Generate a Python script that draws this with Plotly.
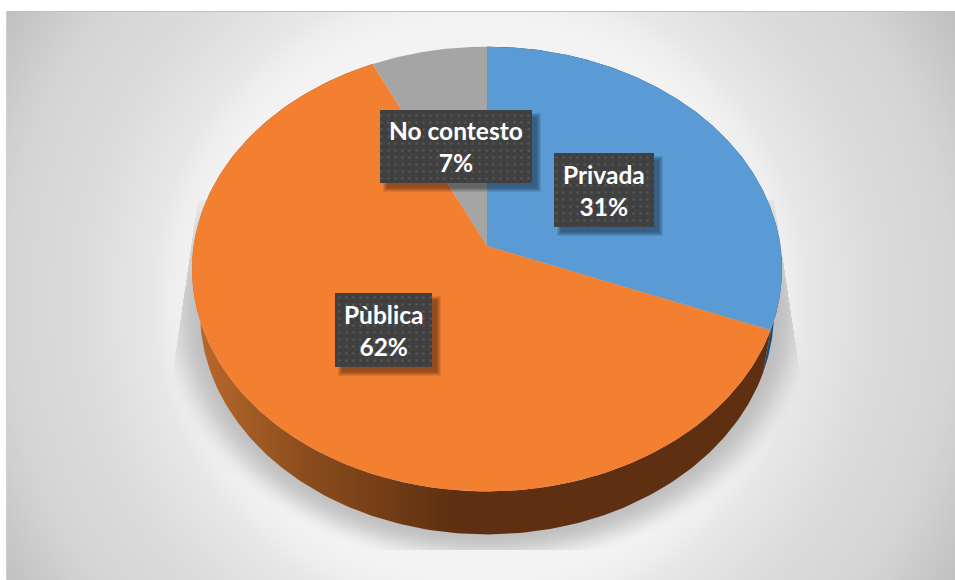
import numpy as np
import plotly.graph_objects as go

# Share of responses per category (clockwise from twelve o'clock)
categories = ["Privada", "Pùblica", "No contesto"]
shares = [31, 62, 7]

face_colors = ["#5b9bd5", "#f37f31", "#a5a5a5"]
W, H = 955, 580

# Projection of the tilted disc onto the page
CX, CY = 487.0, 246.0
RX, RY, TILT = 293.4, 220.0, 0.1036
DEPTH, WALL_SCALE = 43.0, 0.973
ELLIPSE_CY = 269.0


def rim(theta):
    p = 1.0 / (1.0 + TILT * np.cos(theta))
    return CX + RX * np.sin(theta) * p, CY - RY * np.cos(theta) * p


def lower_rim(theta):
    x, y = rim(theta)
    return CX + (x - CX) * WALL_SCALE, y + DEPTH


# Panel backdrop: radial grey falloff plus the soft shadow beneath the disc
yy, xx = np.mgrid[0:H, 0:W] + 0.5
r = np.hypot(xx - 480, yy - 300)
grey = np.interp(r, [0, 200, 285, 310, 327, 397, 474, 495, 551],
                 [245, 245, 243, 238, 232, 220, 213, 208, 193])
rho = np.hypot((xx - CX) / (RX * WALL_SCALE), (yy - (ELLIPSE_CY + DEPTH)) / 222.0)
dist = (rho - 1.0) * 250.0
fade = np.clip(1.0 - dist / 40.0, 0, 1)
fade = fade * fade * (3 - 2 * fade)
left_edge = 195 - (yy - 220) * 0.145
right_edge = 777 + (yy - 220) * 0.15
inside = (xx > left_edge) & (xx < right_edge) & (yy < 550) & (yy > 200)
grey = np.where(inside, grey * (1 - 0.21 * fade), grey)
grey[:11, :] = 255
grey[:, :6] = 255
grey[11, 6:] = 192
grey[11:, 6] = 208

fig = go.Figure()
fig.add_trace(go.Heatmap(
    z=grey.astype(np.uint8), x=np.arange(W) + 0.5, y=np.arange(H) + 0.5,
    zmin=0, zmax=255, zsmooth="fast", showscale=False, hoverinfo="skip",
    colorscale=[[0, "#000000"], [1, "#ffffff"]],
))

bounds = np.cumsum([0] + shares) / sum(shares) * 2 * np.pi
spans = list(zip(bounds[:-1], bounds[1:]))

# Side wall of the disc, only the front slices show
wall_styles = {
    "Privada": dict(fillcolor="#1f4e79"),
    "Pùblica": dict(fillgradient=dict(
        type="horizontal",
        colorscale=[[0, "#bb6a2c"], [0.18, "#8f4f1e"], [0.45, "#5e3011"], [1, "#5e3011"]],
    )),
}
for name, (a, b) in zip(categories, spans):
    if name not in wall_styles:
        continue
    t = np.linspace(a, b, 240)
    x1, y1 = rim(t)
    x2, y2 = lower_rim(t[::-1])
    fig.add_trace(go.Scatter(
        x=np.r_[x1, x2], y=np.r_[y1, y2], mode="lines", fill="toself",
        line=dict(width=0), hoverinfo="skip", **wall_styles[name],
    ))

# Top face of each slice
for name, (a, b), color in zip(categories, spans, face_colors):
    t = np.linspace(a, b, 240)
    x, y = rim(t)
    fig.add_trace(go.Scatter(
        x=np.r_[CX, x, CX], y=np.r_[CY, y, CY], mode="lines", fill="toself",
        fillcolor=color, line=dict(width=0), name=name,
    ))

# Dark data labels: box extents for each category
label_boxes = {
    "Privada": (554, 654, 153, 227),
    "Pùblica": (335, 432, 293, 367),
    "No contesto": (380, 532, 110, 183),
}
for name, share in zip(categories, shares):
    x0, x1, y0, y1 = label_boxes[name]
    for grow in (3, 2, 1, 0, -1):
        fig.add_trace(go.Scatter(
            x=[x0 + 6 - grow, x1 + 6 + grow, x1 + 6 + grow, x0 + 6 - grow, x0 + 6 - grow],
            y=[y0 + 6 - grow, y0 + 6 - grow, y1 + 6 + grow, y1 + 6 + grow, y0 + 6 - grow],
            mode="lines", fill="toself", fillcolor="rgba(0,0,0,0.09)",
            line=dict(width=0), hoverinfo="skip",
        ))
    fig.add_trace(go.Scatter(
        x=[x0, x1, x1, x0, x0], y=[y0, y0, y1, y1, y0],
        mode="lines", fill="toself", line=dict(width=0), hoverinfo="skip",
        fillpattern=dict(shape=".", bgcolor="#404040", fgcolor="#565656",
                         size=7, solidity=0.1, fillmode="replace"),
    ))
    fig.add_annotation(
        x=(x0 + x1) / 2, y=(y0 + y1) / 2, text=f"{name}<br>{share}%",
        showarrow=False, align="center", xanchor="center", yanchor="middle",
        font=dict(family="Lato", size=24.5, color="#ffffff", weight="bold"),
    )

fig.update_layout(
    width=W, height=H, autosize=False, showlegend=False,
    margin=dict(l=0, r=0, t=0, b=0),
    paper_bgcolor="#ffffff", plot_bgcolor="#ffffff",
    xaxis=dict(range=[0, W], visible=False, fixedrange=True),
    yaxis=dict(range=[H, 0], visible=False, fixedrange=True),
)
fig.write_html("out.html", config=dict(displayModeBar=False))
